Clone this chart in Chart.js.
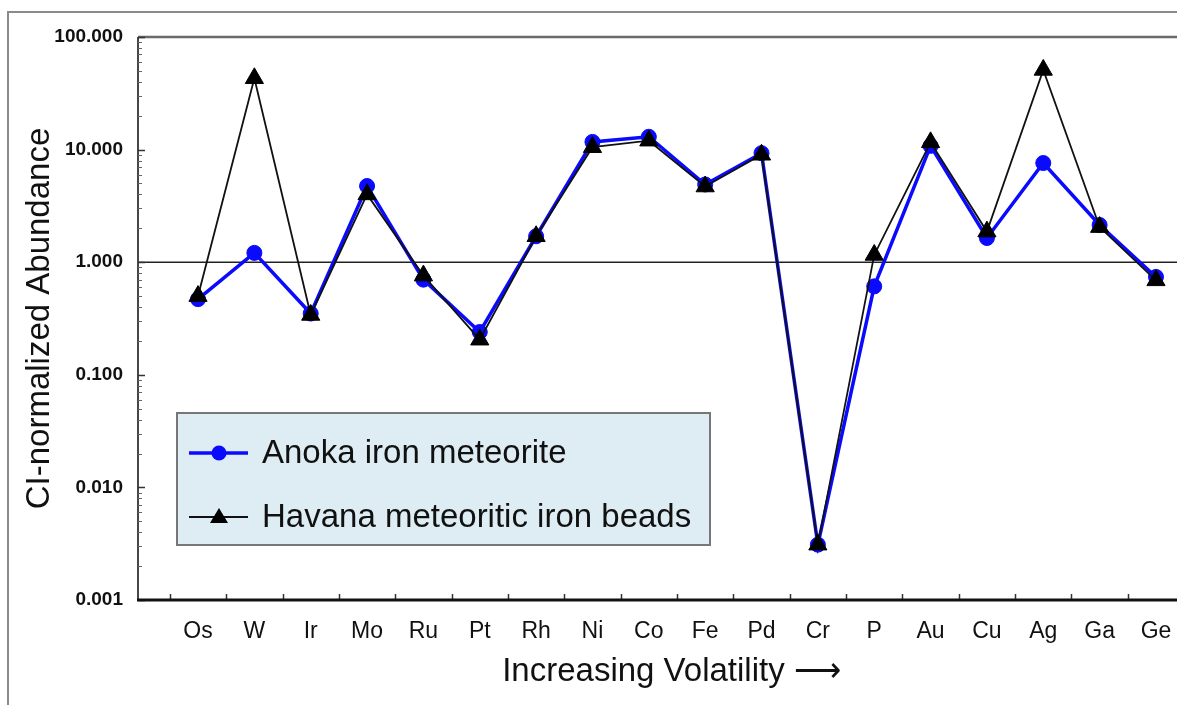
<!DOCTYPE html>
<html>
<head>
<meta charset="utf-8">
<script src="https://cdn.jsdelivr.net/npm/chart.js@4/dist/chart.umd.min.js"></script>
<style>
  html, body { margin: 0; padding: 0; background: #fff; overflow: hidden; }
  #wrap { position: absolute; left: 0; top: 0; width: 1230px; height: 705px; }
</style>
</head>
<body>
<div id="wrap"><canvas id="myChart" width="1230" height="705"></canvas></div>
<script>
var categories = ["Os","W","Ir","Mo","Ru","Pt","Rh","Ni","Co","Fe","Pd","Cr","P","Au","Cu","Ag","Ga","Ge"];
var anoka  = [0.47, 1.21, 0.35, 4.75, 0.70, 0.24, 1.70, 11.7, 13.0, 4.9, 9.3, 0.0031, 0.61, 10.8, 1.64, 7.6, 2.14, 0.74];
var havana = [0.50, 43, 0.34, 4.0, 0.76, 0.205, 1.70, 10.5, 12.0, 4.7, 9.0, 0.0031, 1.16, 11.6, 1.87, 51, 2.05, 0.69];
var yTicks = [0.001, 0.01, 0.1, 1, 10, 100];
var seriesNames = ["Anoka iron meteorite", "Havana meteoritic iron beads"];

var FONT = "'Liberation Sans', Arial, sans-serif";

function toPoints(arr){
  return arr.map(function(v, i){ return {x: i, y: v}; });
}

// frame, reference line, borders, inward ticks, legend box
var decor = {
  id: "decor",
  beforeDraw: function(chart){
    var ctx = chart.ctx;
    ctx.save();
    ctx.fillStyle = "#fff";
    ctx.fillRect(0, 0, chart.width, chart.height);
    ctx.strokeStyle = "#8a8a8a";
    ctx.lineWidth = 2;
    ctx.strokeRect(8, 12, 1400, 900);
    ctx.restore();
  },
  beforeDatasetsDraw: function(chart){
    var ctx = chart.ctx, a = chart.chartArea;
    var xs = chart.scales.x, ys = chart.scales.y;
    ctx.save();
    // line at 1.000
    var y1 = ys.getPixelForValue(1);
    ctx.strokeStyle = "#222";
    ctx.lineWidth = 1.5;
    ctx.beginPath(); ctx.moveTo(a.left, y1); ctx.lineTo(a.right, y1); ctx.stroke();
    // top border
    ctx.strokeStyle = "#6a6a6a";
    ctx.lineWidth = 2.5;
    ctx.beginPath(); ctx.moveTo(a.left, a.top); ctx.lineTo(a.right + 40, a.top); ctx.stroke();
    // left border
    ctx.strokeStyle = "#333";
    ctx.lineWidth = 1.8;
    ctx.beginPath(); ctx.moveTo(a.left, a.top); ctx.lineTo(a.left, a.bottom); ctx.stroke();
    // x inward ticks between categories
    ctx.strokeStyle = "#333";
    ctx.lineWidth = 1.5;
    for (var i = 0; i < categories.length; i++) {
      var px = Math.round(xs.getPixelForValue(i - 0.5)) + 0.5;
      if (px <= a.left + 2) continue;
      ctx.beginPath(); ctx.moveTo(px, a.bottom); ctx.lineTo(px, a.bottom - 6); ctx.stroke();
    }
    // y inward ticks, minor ones per decade
    ctx.lineWidth = 1;
    ctx.strokeStyle = "#666";
    for (var d = 0; d < yTicks.length - 1; d++) {
      for (var m = 2; m <= 9; m++) {
        var py = Math.round(ys.getPixelForValue(yTicks[d] * m)) + 0.5;
        ctx.beginPath(); ctx.moveTo(a.left, py); ctx.lineTo(a.left + 4, py); ctx.stroke();
      }
    }
    ctx.strokeStyle = "#333";
    ctx.lineWidth = 1.5;
    yTicks.forEach(function(t){
      var py = Math.round(ys.getPixelForValue(t)) + 0.5;
      ctx.beginPath(); ctx.moveTo(a.left, py); ctx.lineTo(a.left + 7, py); ctx.stroke();
    });
    // bottom axis line
    ctx.strokeStyle = "#111";
    ctx.lineWidth = 3;
    ctx.beginPath(); ctx.moveTo(a.left - 1, a.bottom); ctx.lineTo(a.right + 40, a.bottom); ctx.stroke();
    ctx.restore();
  },
  afterDraw: function(chart){
    var ctx = chart.ctx;
    var ds = chart.data.datasets;
    ctx.save();
    // legend box
    ctx.fillStyle = "#deedf3";
    ctx.fillRect(177, 413, 533, 132);
    ctx.strokeStyle = "#777";
    ctx.lineWidth = 2;
    ctx.strokeRect(177, 413, 533, 132);
    var rows = [{y: 453, ds: ds[0]}, {y: 517, ds: ds[1]}];
    rows.forEach(function(r){
      ctx.strokeStyle = r.ds.borderColor;
      ctx.lineWidth = r.ds.borderWidth;
      ctx.beginPath(); ctx.moveTo(189, r.y); ctx.lineTo(248, r.y); ctx.stroke();
      ctx.fillStyle = r.ds.pointBackgroundColor;
      ctx.beginPath();
      if (r.ds.pointStyle === "triangle") {
        ctx.moveTo(219, r.y - 9); ctx.lineTo(228, r.y + 6); ctx.lineTo(210, r.y + 6);
      } else {
        ctx.arc(219, r.y, 7.5, 0, Math.PI * 2);
      }
      ctx.closePath(); ctx.fill();
      ctx.fillStyle = "#111";
      ctx.font = "33px " + FONT;
      ctx.textBaseline = "middle";
      ctx.textAlign = "left";
      ctx.fillText(r.ds.label, 262, r.y + 1);
    });
    ctx.restore();
  }
};

var ctx = document.getElementById("myChart").getContext("2d");
var myChart = new Chart(ctx, {
  type: "line",
  data: {
    datasets: [
      {
        label: seriesNames[0],
        data: toPoints(anoka),
        borderColor: "#0a0aff",
        backgroundColor: "#0a0aff",
        borderWidth: 3.5,
        pointStyle: "circle",
        pointRadius: 7.5,
        pointBackgroundColor: "#0a0aff",
        pointBorderColor: "#0a0aff",
        pointBorderWidth: 1,
        tension: 0,
        order: 2
      },
      {
        label: seriesNames[1],
        data: toPoints(havana),
        borderColor: "#111",
        backgroundColor: "#111",
        borderWidth: 1.8,
        pointStyle: "triangle",
        pointRadius: 10.5,
        pointBackgroundColor: "#000",
        pointBorderColor: "#000",
        pointBorderWidth: 1,
        tension: 0,
        order: 1
      }
    ]
  },
  options: {
    responsive: false,
    animation: false,
    layout: { padding: { top: 37, right: 25, bottom: 0, left: 0 } },
    plugins: {
      legend: { display: false },
      tooltip: { enabled: false }
    },
    scales: {
      x: {
        type: "linear",
        min: -1.065,
        max: 17.87,
        grid: { display: false, drawTicks: false },
        border: { display: false },
        afterBuildTicks: function(scale){
          scale.ticks = categories.map(function(c, i){ return {value: i}; });
        },
        afterFit: function(scale){ scale.height = 105; },
        ticks: {
          autoSkip: false,
          maxRotation: 0,
          padding: 18,
          color: "#111",
          font: { family: FONT, size: 23 },
          callback: function(v){ return categories[v]; }
        },
        title: {
          display: true,
          text: "Increasing Volatility \u27F6",
          color: "#111",
          font: { family: FONT, size: 33 },
          padding: { top: 0, bottom: 13 }
        }
      },
      y: {
        type: "logarithmic",
        min: 0.001,
        max: 100,
        grid: { display: false, drawTicks: false },
        border: { display: false },
        afterBuildTicks: function(scale){
          scale.ticks = yTicks.map(function(v){ return {value: v}; });
        },
        afterFit: function(scale){ scale.width = 138; },
        ticks: {
          padding: 15,
          color: "#111",
          font: { family: FONT, size: 19, weight: "bold" },
          callback: function(v){ return Number(v).toFixed(3); }
        },
        title: {
          display: true,
          text: "CI-normalized Abundance",
          color: "#111",
          font: { family: FONT, size: 33 },
          padding: { top: 20, bottom: 0 }
        }
      }
    }
  },
  plugins: [decor]
});
</script>
</body>
</html>
